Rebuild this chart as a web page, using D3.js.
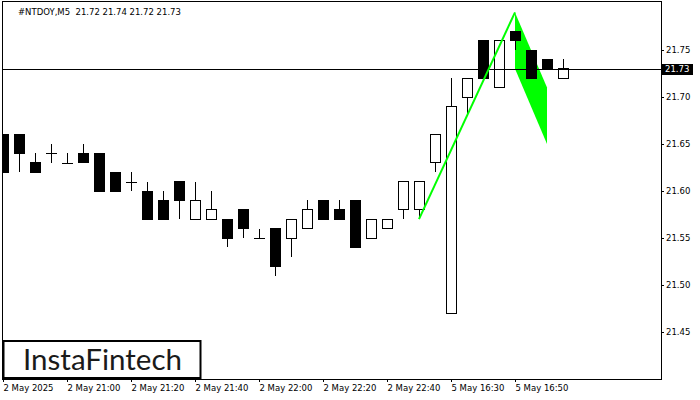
<!DOCTYPE html>
<html><head><meta charset="utf-8">
<script src="https://cdn.jsdelivr.net/npm/d3@7"></script>
<style>html,body{margin:0;padding:0;background:#fff;}svg{display:block;}</style>
</head><body>
<svg id="c" width="700" height="400"></svg>
<script>
const symbolTitle = "#NTDOY,M5  21.72 21.74 21.72 21.73";
const times = ["2 May 20:40","2 May 20:45","2 May 20:50","2 May 20:55","2 May 21:00","2 May 21:05","2 May 21:10","2 May 21:15","2 May 21:20","2 May 21:25","2 May 21:30","2 May 21:35","2 May 21:40","2 May 21:45","2 May 21:50","2 May 21:55","2 May 22:00","2 May 22:05","2 May 22:10","2 May 22:15","2 May 22:20","2 May 22:25","2 May 22:30","2 May 22:35","2 May 22:40","2 May 22:45","2 May 22:50","2 May 22:55","5 May 16:30","5 May 16:35","5 May 16:40","5 May 16:45","5 May 16:50","5 May 16:55","5 May 17:00","5 May 17:05"];
const open  = [21.66,21.66,21.63,21.64,21.63,21.64,21.64,21.62,21.61,21.60,21.59,21.61,21.57,21.57,21.57,21.58,21.55,21.56,21.55,21.56,21.59,21.58,21.59,21.55,21.56,21.58,21.58,21.63,21.47,21.70,21.76,21.71,21.77,21.75,21.74,21.72];
const high  = [21.66,21.66,21.64,21.65,21.64,21.65,21.64,21.62,21.62,21.61,21.60,21.61,21.61,21.60,21.57,21.58,21.56,21.56,21.57,21.59,21.59,21.59,21.59,21.57,21.57,21.61,21.61,21.66,21.72,21.72,21.76,21.76,21.77,21.75,21.74,21.74];
const low   = [21.62,21.62,21.62,21.63,21.63,21.63,21.60,21.60,21.60,21.57,21.57,21.57,21.57,21.57,21.54,21.55,21.55,21.51,21.53,21.56,21.57,21.57,21.54,21.55,21.56,21.57,21.57,21.62,21.47,21.68,21.72,21.71,21.75,21.72,21.73,21.72];
const close = [21.62,21.64,21.62,21.64,21.63,21.63,21.60,21.60,21.61,21.57,21.57,21.59,21.59,21.58,21.55,21.56,21.55,21.52,21.57,21.58,21.57,21.57,21.54,21.57,21.57,21.61,21.61,21.66,21.69,21.72,21.72,21.76,21.76,21.72,21.73,21.73];
const xTickIndex = [0,4,8,12,16,20,24,28,32];
const xTickLabels = ["2 May 2025","2 May 21:00","2 May 21:20","2 May 21:40","2 May 22:00","2 May 22:20","2 May 22:40","5 May 16:30","5 May 16:50"];
const yTicks = [21.45,21.50,21.55,21.60,21.65,21.70,21.75];
const currentPrice = 21.73;
// flag pattern: pole from candle 26 low to peak at candle 32, flag to candle 34
const poleIdx = [26,32];
const poleVal = [21.57,21.79];
const flagIdx = [32,34,34,32];
const flagVal = [21.79,21.71,21.65,21.73];

const svg = d3.select("#c");
const L=3, R=661, T=2, B=379;
const font = "DejaVu Sans";
const x = d3.scaleLinear().domain([0,35]).range([3,563]);
const y = d3.scaleLinear().domain([21.40,21.80]).range([379,3]);

svg.append("defs").append("clipPath").attr("id","clip")
  .append("rect").attr("x",L).attr("y",T).attr("width",R-L).attr("height",B-T);

const plot = svg.append("g").attr("clip-path","url(#clip)");

// flag polygon (background)
plot.append("polygon")
  .attr("points", flagIdx.map((d,i)=>[x(d), y(flagVal[i])].join(",")).join(" "))
  .attr("fill","#00ff00");

const data = times.map((t,i)=>({t,i,o:open[i],h:high[i],l:low[i],c:close[i]}));
const bw = 11;
const cg = plot.append("g").attr("shape-rendering","crispEdges");
cg.selectAll("line.w").data(data).enter().append("line")
  .attr("x1",d=>Math.round(x(d.i))+0.5).attr("x2",d=>Math.round(x(d.i))+0.5)
  .attr("y1",d=>y(d.h)).attr("y2",d=>y(d.l))
  .attr("stroke","#000").attr("stroke-width",1);
cg.selectAll("rect.b").data(data.filter(d=>d.o!==d.c)).enter().append("rect")
  .attr("x",d=>Math.round(x(d.i))-5+0.5)
  .attr("y",d=>y(Math.max(d.o,d.c)))
  .attr("width",bw-1)
  .attr("height",d=>Math.abs(y(d.o)-y(d.c)))
  .attr("fill",d=>d.c>d.o?"#fff":"#000")
  .attr("stroke","#000").attr("stroke-width",1);
cg.selectAll("line.d").data(data.filter(d=>d.o===d.c)).enter().append("line")
  .attr("x1",d=>Math.round(x(d.i))-5).attr("x2",d=>Math.round(x(d.i))+6)
  .attr("y1",d=>Math.round(y(d.o))+0.5).attr("y2",d=>Math.round(y(d.o))+0.5)
  .attr("stroke","#000").attr("stroke-width",1);

// current price line
plot.append("line").attr("x1",L).attr("x2",R)
  .attr("y1",Math.round(y(currentPrice))+0.5).attr("y2",Math.round(y(currentPrice))+0.5)
  .attr("stroke","#000").attr("stroke-width",1).attr("shape-rendering","crispEdges");

// pole line
plot.append("line")
  .attr("x1",x(poleIdx[0])).attr("y1",y(poleVal[0]))
  .attr("x2",x(poleIdx[1])).attr("y2",y(poleVal[1]))
  .attr("stroke","#00ff00").attr("stroke-width",2);

// frame
svg.append("rect").attr("x",L-0.5).attr("y",T-0.5).attr("width",R-L+1).attr("height",B-T+1)
  .attr("fill","none").attr("stroke","#000").attr("stroke-width",1).attr("shape-rendering","crispEdges");

// right axis
const yAxis = d3.axisRight(y).tickValues(yTicks).tickSize(3).tickFormat(d3.format(".2f"));
const ya = svg.append("g").attr("transform",`translate(${R},0)`).call(yAxis);
ya.select(".domain").remove();
ya.selectAll("text").attr("font-family",font).attr("font-size","8.5px").attr("fill","#000").attr("x",5);
ya.selectAll("line").attr("stroke","#000");

// price box
svg.append("rect").attr("x",662).attr("y",Math.round(y(currentPrice))-5).attr("width",31).attr("height",11).attr("fill","#000");
svg.append("text").attr("x",665).attr("y",y(currentPrice)+0.5).attr("dy","0.32em")
  .attr("font-family",font).attr("font-size","8.5px").attr("fill","#fff").text(currentPrice.toFixed(2));

// bottom axis
const xAxis = d3.axisBottom(x).tickValues(xTickIndex).tickSize(3).tickFormat((d,i)=>xTickLabels[i]);
const xa = svg.append("g").attr("transform",`translate(0,${B})`).call(xAxis);
xa.select(".domain").remove();
xa.selectAll("text").attr("font-family",font).attr("font-size","8.5px").attr("fill","#000")
  .attr("text-anchor","start").attr("y",6).attr("dy","0.71em");
xa.selectAll("line").attr("stroke","#000");

// title
svg.append("text").attr("x",18).attr("y",14.5).attr("font-family",font).attr("font-size","8.5px")
  .attr("fill","#000").attr("xml:space","preserve").style("white-space","pre").text(symbolTitle);

// logo
svg.append("rect").attr("x",3.5).attr("y",341).attr("width",197).attr("height",37)
  .attr("fill","#fff").attr("stroke","#000").attr("stroke-width",2);
svg.append("text").attr("x",23).attr("y",370).attr("font-family","Lato").attr("font-size","29px")
  .attr("fill","#1a1a1a").attr("textLength",159).attr("lengthAdjust","spacingAndGlyphs").text("InstaFintech");
</script>
</body></html>
